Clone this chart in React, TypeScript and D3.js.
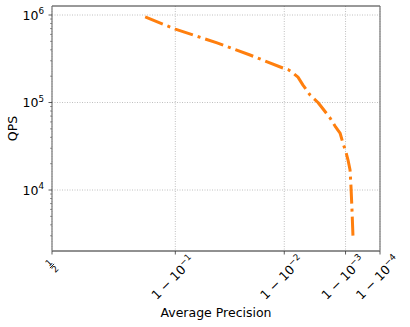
import React from "react";
import * as d3 from "d3";

// average precision vs queries per second
const precision = [
  0.842, 0.9, 0.952, 0.976, 0.9896, 0.991, 0.992, 0.99338, 0.99437, 0.99556,
  0.99668, 0.99795, 0.99835, 0.99869, 0.99886, 0.99902, 0.99912, 0.99921,
  0.99925, 0.99929, 0.99933,
];
const qps = [
  950000, 690000, 480000, 349000, 248000, 238000, 223000, 195000, 158000,
  122000, 100000, 66500, 53800, 44800, 34400, 27200, 22000, 16900, 10800, 5900,
  2830,
];

const xTicks = [0.9, 0.99, 0.999, 0.9999];
const xTickExp = ["−1", "−2", "−3", "−4"];
const yTicks = [1e4, 1e5, 1e6];
const yTickExp = ["4", "5", "6"];

const W = 410;
const H = 327;
const margin = { top: 6, right: 30, bottom: 76, left: 52 };
const FONT = "DejaVu Sans, sans-serif";
const FS = 12.5;

export default function App() {
  const left = margin.left;
  const right = W - margin.right;
  const top = margin.top;
  const bottom = H - margin.bottom;

  // x is laid out linear in (1 - p)^(1/4)
  const xErr = d3.scalePow().exponent(0.25).domain([0.5, 1e-4]).range([left, right]);
  const x = (p: number) => xErr(1 - p);
  const y = d3
    .scaleLog()
    .domain([Math.pow(10, 3.303), Math.pow(10, 6.103)])
    .range([bottom, top]);

  const minor: number[] = [];
  [1e3, 1e4, 1e5, 1e6].forEach((d) => {
    for (let k = 2; k <= 9; k++) {
      const v = d * k;
      if (v >= y.domain()[0] && v <= y.domain()[1]) minor.push(v);
    }
  });

  const pts = precision.map((p, i) => [x(p), y(qps[i])] as [number, number]);
  const line = d3.line()(pts) || "";

  return (
    <svg
      width={W}
      height={H}
      style={{ position: "absolute", left: 0, top: 0, background: "#fff" }}
      fontFamily={FONT}
    >
      {/* grid */}
      {[0.5, ...xTicks].map((t) => (
        <line
          key={"gx" + t}
          x1={x(t)}
          x2={x(t)}
          y1={top}
          y2={bottom}
          stroke="#b0b0b0"
          strokeWidth={0.8}
          strokeDasharray="1 1.5"
        />
      ))}
      {yTicks.map((t) => (
        <line
          key={"gy" + t}
          x1={left}
          x2={right}
          y1={y(t)}
          y2={y(t)}
          stroke="#b0b0b0"
          strokeWidth={0.8}
          strokeDasharray="1 1.5"
        />
      ))}

      {/* series */}
      <path
        d={line}
        fill="none"
        stroke="#ff7f0e"
        strokeWidth={3}
        strokeLinejoin="round"
        strokeDasharray="19 5 3 5"
      />

      {/* frame */}
      <line x1={left} x2={right} y1={top} y2={top} stroke="#333" strokeWidth={1} />
      <line x1={left} x2={right} y1={bottom} y2={bottom} stroke="#222" strokeWidth={1} />
      <line x1={left} x2={left} y1={top} y2={bottom} stroke="#777" strokeWidth={1.2} />
      <line x1={right} x2={right} y1={top} y2={bottom} stroke="#777" strokeWidth={1.2} />

      {/* y ticks */}
      {yTicks.map((t, i) => (
        <g key={"yt" + t}>
          <line x1={left - 3.5} x2={left} y1={y(t)} y2={y(t)} stroke="#333" strokeWidth={0.8} />
          <text x={left - 8} y={y(t) + 4.5} fontSize={FS} textAnchor="end" fill="#000">
            10
            <tspan fontSize={FS * 0.7} dy={-5.5}>
              {yTickExp[i]}
            </tspan>
          </text>
        </g>
      ))}
      {minor.map((t) => (
        <line key={"ym" + t} x1={left - 2} x2={left} y1={y(t)} y2={y(t)} stroke="#555" strokeWidth={0.6} />
      ))}

      {/* x ticks */}
      {[0.5, ...xTicks].map((t) => (
        <line key={"xt" + t} x1={x(t)} x2={x(t)} y1={bottom} y2={bottom + 3.5} stroke="#333" strokeWidth={0.8} />
      ))}
      <g transform={`translate(${x(0.5)},${bottom + 15}) rotate(-45)`}>
        <text x={0} y={-1.3} fontSize={FS * 0.72} textAnchor="middle">1</text>
        <line x1={-3} x2={3} y1={0} y2={0} stroke="#000" strokeWidth={0.8} />
        <text x={0} y={7.5} fontSize={FS * 0.72} textAnchor="middle">2</text>
      </g>
      {xTicks.map((t, i) => (
        <g key={"xl" + t} transform={`translate(${x(t) - 2},${bottom + 27}) rotate(-45)`}>
          <text x={0} y={4} fontSize={FS} textAnchor="middle" fill="#000">
            1 − 10
            <tspan fontSize={FS * 0.7} dy={-5.5}>
              {xTickExp[i]}
            </tspan>
          </text>
        </g>
      ))}

      {/* axis titles */}
      <text x={(left + right) / 2} y={H - 10} fontSize={FS} textAnchor="middle">
        Average Precision
      </text>
      <text
        transform={`translate(17,${(top + bottom) / 2}) rotate(-90)`}
        fontSize={FS}
        textAnchor="middle"
      >
        QPS
      </text>
    </svg>
  );
}
